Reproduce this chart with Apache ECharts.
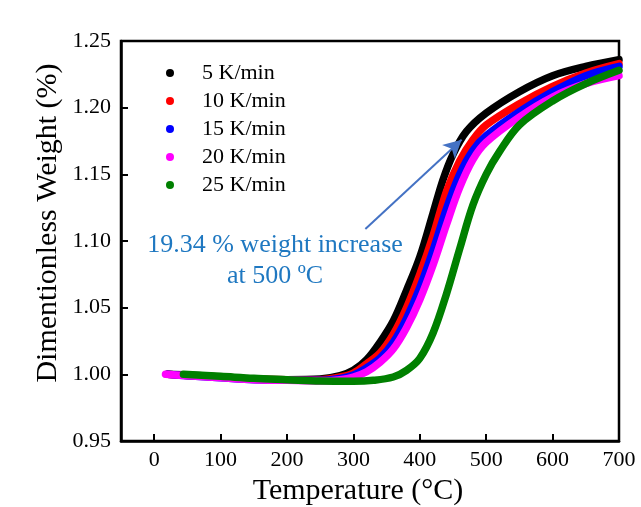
<!DOCTYPE html>
<html><head><meta charset="utf-8">
<script src="https://cdn.jsdelivr.net/npm/echarts@6/dist/echarts.min.js"></script>
<style>html,body{margin:0;padding:0;background:#fff}#c{width:641px;height:507px}</style>
</head><body><div id="c"></div>
<script>
const seriesNames = ['5 K/min','10 K/min','15 K/min','20 K/min','25 K/min'];
const seriesColors = ['#000000','#ff0000','#0000ff','#ff00ff','#008000'];
const xTicks = [0,100,200,300,400,500,600,700];

const t5 = [20,50,100,150,200,250,280,300,320,340,360,380,400,420,435,450,470,500,550,600,650,700];
const w5 = [1.000,0.9995,0.998,0.9965,0.996,0.9965,0.999,1.003,1.011,1.024,1.040,1.063,1.088,1.121,1.146,1.165,1.182,1.196,1.212,1.224,1.231,1.236];
const t10 = [20,50,100,150,200,250,280,300,320,340,360,380,400,420,440,460,480,500,550,600,650,700];
const w10 = [1.000,0.999,0.998,0.9965,0.996,0.996,0.998,1.001,1.008,1.016,1.030,1.050,1.075,1.104,1.137,1.160,1.176,1.187,1.203,1.216,1.226,1.233];
const t15 = [20,50,100,150,200,250,280,300,320,340,360,380,400,420,440,460,480,500,550,600,650,700];
const w15 = [1.000,0.999,0.9975,0.996,0.9955,0.9955,0.997,0.9995,1.005,1.012,1.024,1.042,1.065,1.093,1.124,1.150,1.168,1.179,1.197,1.212,1.224,1.231];
const t20 = [17,50,100,150,200,250,280,300,320,340,360,380,400,420,440,460,480,500,550,600,650,700];
const w20 = [1.000,0.999,0.9975,0.996,0.9955,0.995,0.996,0.998,1.002,1.009,1.019,1.035,1.056,1.082,1.112,1.140,1.161,1.174,1.193,1.208,1.218,1.224];
const t25 = [44,100,150,200,250,300,330,360,380,400,420,440,460,480,500,520,550,600,650,700];
const w25 = [1.000,0.9985,0.997,0.996,0.995,0.9948,0.9955,0.998,1.003,1.012,1.031,1.060,1.094,1.127,1.150,1.167,1.187,1.205,1.218,1.228];

const arrowFrom = [318, 1.109];
const arrowTo = [463, 1.176];
const noteLines = ['19.34 % weight increase','at 500 ºC'];
const xTitle = 'Temperature (°C)';
const yTitle = 'Dimentionless Weight (%)';

const temps = [t5,t10,t15,t20,t25];
const weights = [w5,w10,w15,w20,w25];
const FONT = '"Liberation Serif","Times New Roman",serif';

const chart = echarts.init(document.getElementById('c'), null, {renderer:'canvas'});
const series = seriesNames.map((n,i)=>({
  name:n, type:'line', smooth:0.35, showSymbol:false, symbol:'circle',
  data: temps[i].map((t,j)=>[t, weights[i][j]]),
  lineStyle:{width:7.5, color:seriesColors[i], cap:'round', join:'round'}, itemStyle:{color:seriesColors[i]},
  z: 2+i
}));
series.push({
  type:'line', data:[], silent:true,
  markLine:{silent:true, symbol:['none','arrow'], symbolSize:[14,18],
    label:{show:false}, lineStyle:{color:'#4472C4', width:2, type:'solid'},
    data:[[{coord:arrowFrom},{coord:arrowTo}]]}
});

const graphics = noteLines.map((s,i)=>({type:'text',x:275,y:245+i*31,
    style:{text:s,fontFamily:FONT,fontSize:26,fill:'#1f78c1',align:'center',verticalAlign:'middle'}}));
graphics.push({type:'text',x:48,y:223,rotation:Math.PI/2,
    style:{text:yTitle,fontFamily:FONT,fontSize:30,fill:'#000',align:'center',verticalAlign:'middle'}});

chart.setOption({
  backgroundColor:'#ffffff',
  animation:false,
  grid:{left:121,right:22,top:41,bottom:66,outerBoundsMode:'none',containLabel:false,show:true,borderColor:'#000',borderWidth:2.5,backgroundColor:'transparent'},
  legend:{orient:'vertical',left:161,top:56,icon:'circle',itemWidth:8,itemHeight:8,itemGap:4,
    data:seriesNames,
    textStyle:{fontFamily:FONT,fontSize:22,color:'#000',lineHeight:24,padding:[0,0,0,23]}},
  xAxis:{type:'value',min:-50,max:700,
    name:xTitle,nameLocation:'middle',nameGap:34,
    nameTextStyle:{fontFamily:FONT,fontSize:30,color:'#000',padding:[0,0,0,-24]},
    axisLine:{show:true,onZero:false,lineStyle:{color:'#000',width:2.5}},
    axisTick:{show:true,inside:true,length:7,lineStyle:{color:'#000',width:2},customValues:xTicks},
    axisLabel:{fontFamily:FONT,fontSize:22,color:'#000',margin:8,customValues:xTicks},
    splitLine:{show:false}},
  yAxis:{type:'value',min:0.95,max:1.25,interval:0.05,
    axisLine:{show:true,onZero:false,lineStyle:{color:'#000',width:2.5}},
    axisTick:{show:true,inside:true,length:7,lineStyle:{color:'#000',width:2}},
    axisLabel:{fontFamily:FONT,fontSize:22,color:'#000',margin:10,formatter:v=>v.toFixed(2)},
    splitLine:{show:false}},
  graphic:graphics,
  series
});
</script></body></html>
